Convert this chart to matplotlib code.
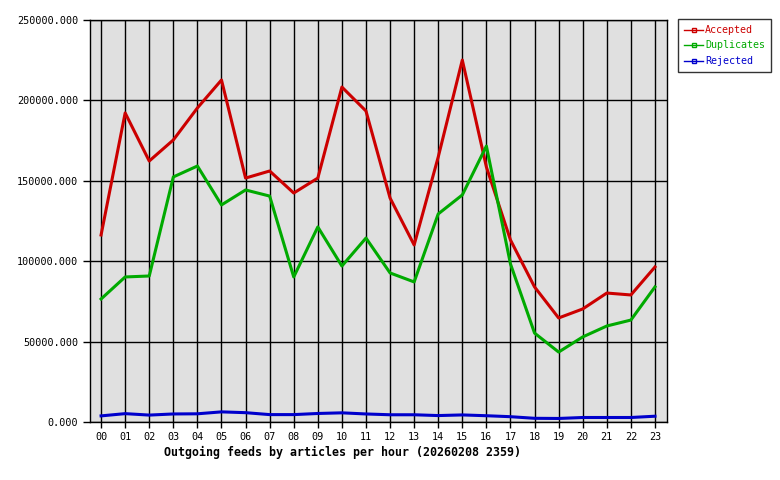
import matplotlib
matplotlib.use("Agg")
import matplotlib.pyplot as plt
from matplotlib.ticker import FuncFormatter

# hourly values
hours = ["00", "01", "02", "03", "04", "05", "06", "07", "08", "09", "10", "11",
         "12", "13", "14", "15", "16", "17", "18", "19", "20", "21", "22", "23"]
accepted = [116300, 192200, 162300, 175400, 195300, 212700, 151700, 156100,
            142400, 151700, 208300, 193400, 139300, 110100, 164800, 225100,
            158600, 113200, 84000, 64700, 70300, 80200, 79000, 96400]
duplicates = [76500, 90200, 90800, 152400, 159200, 135000, 144300, 140500,
              90200, 121300, 97000, 114400, 92700, 87100, 129400, 141200,
              171600, 98300, 55300, 43500, 52900, 59700, 63400, 84000]
rejected = [3800, 5200, 4300, 5000, 5100, 6300, 5800, 4600, 4600, 5300, 5700, 5000,
            4500, 4500, 4000, 4400, 3900, 3300, 2300, 2200, 2800, 2800, 2800, 3600]

plt.rcParams['font.family'] = ['DejaVu Sans Mono']

fig = plt.figure(figsize=(7.8, 4.8), dpi=100)
ax = fig.add_axes([90 / 780, 1 - 422 / 480, 577 / 780, 402 / 480])
ax.set_facecolor("#e0e0e0")

x = list(range(len(hours)))
ax.plot(x, accepted, color="#cc0000", lw=2.2, label="Accepted", zorder=3)
ax.plot(x, duplicates, color="#00aa00", lw=2.2, label="Duplicates", zorder=3)
ax.plot(x, rejected, color="#0000cc", lw=2.2, label="Rejected", zorder=3)

ax.set_xlim(-0.46, 23.5)
ax.set_ylim(0, 250000)
ax.set_xticks(x)
ax.set_xticklabels(hours, fontsize=7.3)
ax.set_yticks(range(0, 250001, 50000))
ax.yaxis.set_major_formatter(FuncFormatter(lambda v, p: "%.3f" % v))
ax.tick_params(axis="y", labelsize=7.3, length=5, width=1, color="black")
ax.tick_params(axis="x", length=4, width=1)
ax.grid(True, color="black", lw=1, zorder=1)
ax.set_axisbelow(True)
for s in ax.spines.values():
    s.set_linewidth(1)

fig.text(343 / 780, 1 - 452 / 480, "Outgoing feeds by articles per hour (20260208 2359)",
         ha="center", va="center", fontsize=8.4, fontweight="bold")

leg = fig.legend(loc="upper left", bbox_to_anchor=(678 / 780, 1 - 19 / 480),
                 fontsize=7.2, frameon=True, fancybox=False, edgecolor="black",
                 handlelength=1.9, handletextpad=0.2, borderpad=0.6,
                 labelspacing=0.55, borderaxespad=0)
leg.get_frame().set_linewidth(1)
for line, txt in zip(leg.get_lines(), leg.get_texts()):
    line.set_linewidth(1.0)
    line.set_marker("s")
    line.set_markersize(3)
    line.set_markerfacecolor("none")
    line.set_markevery([1])
    txt.set_color(line.get_color())

fig.savefig("out.png", dpi=100)
